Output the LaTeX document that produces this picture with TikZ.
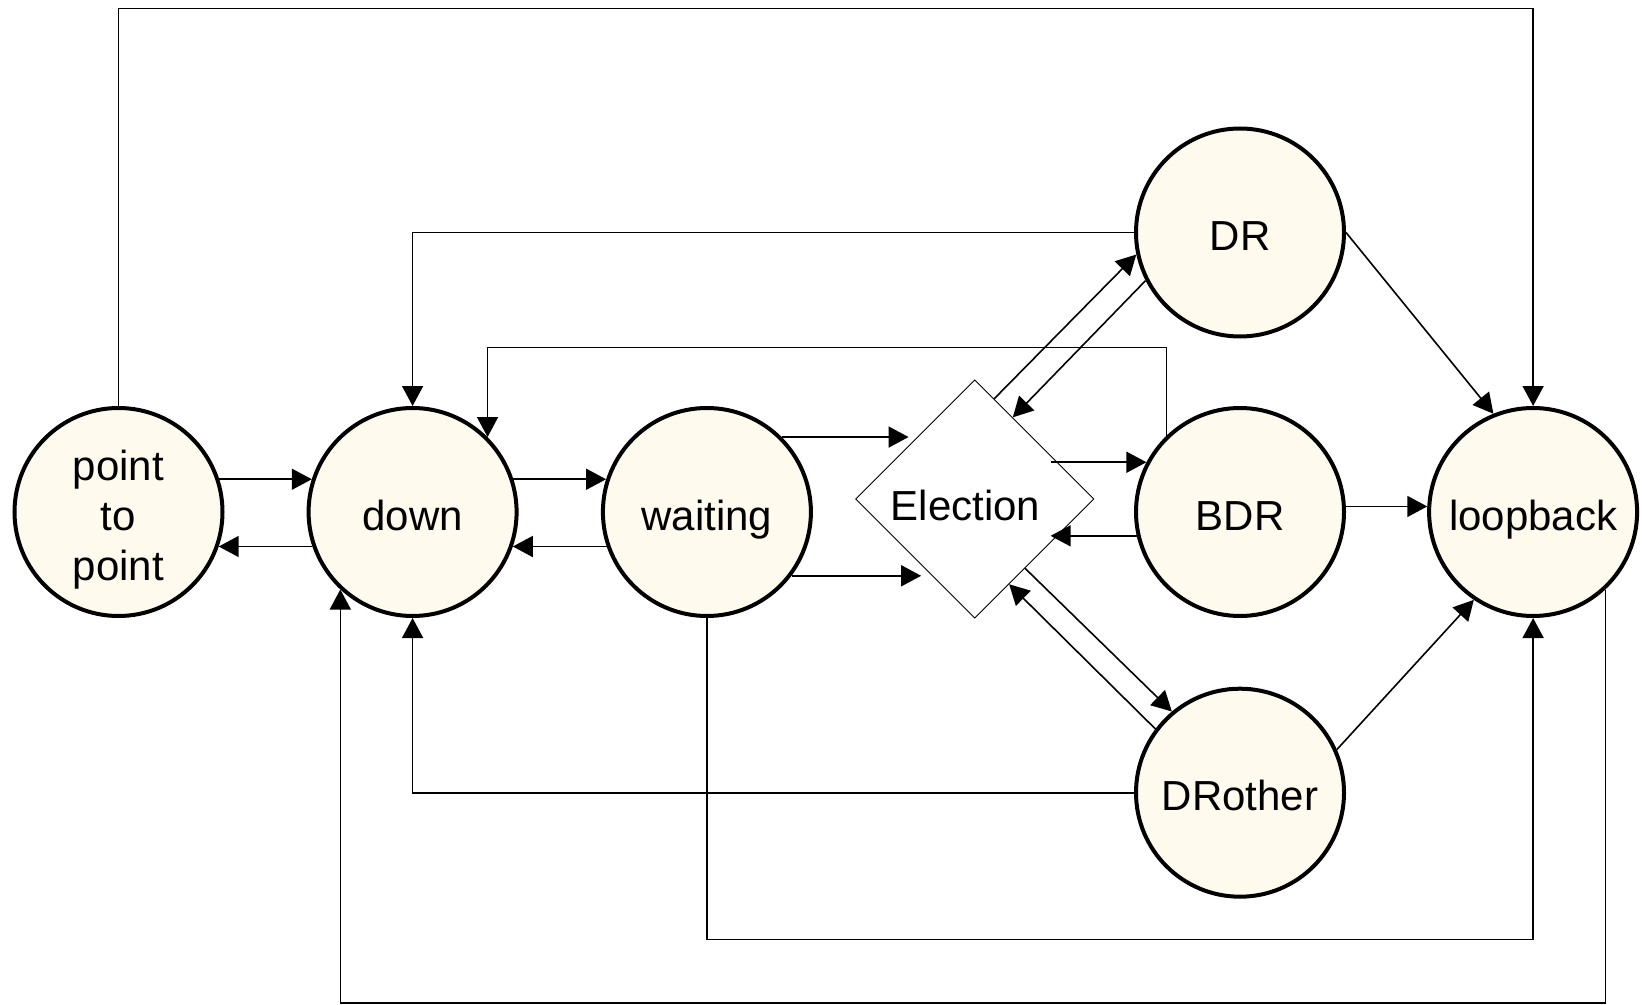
\documentclass[tikz,border=0pt]{standalone}
\usepackage{fontspec}
\setmainfont{Liberation Sans}
\usetikzlibrary{shapes.geometric,arrows.meta}
\definecolor{statefill}{RGB}{255,250,238}

\begin{document}
\begin{tikzpicture}[x=0.5pt, y=-0.5pt, font=\fontsize{21}{25}\selectfont,
	state/.style={circle, draw=black, line width=2pt, fill=statefill,
		minimum size=104pt, inner sep=0pt, align=center,
		text height=18pt, text depth=0pt},
	elect/.style={diamond, draw=black, line width=0.5pt,
		minimum width=119.2pt, minimum height=119.2pt, inner sep=0pt},
	link/.style={line width=0.8pt, -{Triangle[length=10pt,width=10.5pt]}}]
	\useasboundingbox (0,0) rectangle (1642,1005);

	% States
	\node[state, text height=68pt] (ptp) at (118.5,512) {point\\to\\point};
	\node[state] (down) at (412.6,512) {down};
	\node[state] (wait) at (706.9,512) {waiting};
	\node[state] (dr) at (1240,232.5) {DR};
	\node[state] (bdr) at (1240,512) {BDR};
	\node[state] (drother) at (1240,792.7) {DRother};
	\node[state] (loop) at (1533.1,512) {loopback};
	\node[elect, label={[shift={(-4.6pt,-3.4pt)}]center:Election}] (elec) at (974.7,499) {};

	%% Left part
	\draw[link] (ptp.north) -- (ptp.north |- 0,8.4) -| (loop.north);
	\draw[link] (ptp.18) -- (down.162);
	\draw[link] (down.199) -- (ptp.-19);
	\draw[link] (down.18) -- (wait.162);
	\draw[link] (wait.199) -- (down.-19);
	\draw[link] (wait.45) -- (elec.141 |- wait.45);
	\draw[link] (wait.-37) -- (elec.231 |- wait.-37);

	%% Back to down
	\draw[link] (dr.west) -| (down.north);
	\draw[link] (bdr.134) -- (bdr.134 |- 0,347.7) -| (down.45);
	\draw[link] (drother.west) -| (down.south);
	\draw[link] (loop.-47) -- (loop.-47 |- 0,1003.2) -| (down.227);

	%% Election
	\draw[link] (elec.79) -- (dr.192);
	\draw[link] (dr.207) -- (elec.65);
	\draw[link] (elec.30 |- bdr.152) -- (bdr.152);
	\draw[link] (bdr.193) -- (elec.-30 |- bdr.193);
	\draw[link] (elec.-54) -- (drother.130);
	\draw[link] (drother.143) -- (elec.-68);

	%% Loopback
	\draw[link] (dr.east) -- (loop.112);
	\draw[link] (bdr.3) -- (loop.177);
	\draw[link] (drother.24) -- (loop.236);
	\draw[link] (wait.south) -- (wait.south |- 0,939.3) -| (loop.south);

\end{tikzpicture}
\end{document}
